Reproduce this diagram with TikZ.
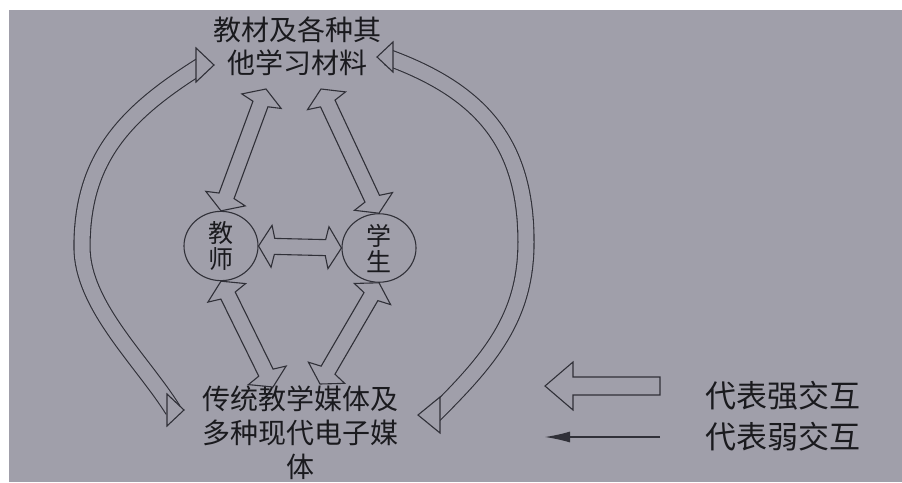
\documentclass[tikz,border=0pt]{standalone}
\usepackage{fontspec}
\newfontfamily\cjk{Noto Sans CJK SC}
\usetikzlibrary{calc,shapes.geometric,arrows.meta}

\definecolor{paper}{RGB}{160,159,170}
\definecolor{ink}{RGB}{48,48,56}
\definecolor{txt}{RGB}{26,26,30}

\newcommand{\headlen}{16pt}
\newcommand{\barblen}{13pt}
\newcommand{\headw}{21pt}
\newcommand{\shaftw}{8pt}
% hollow arrow with a head at both ends
\newcommand{\fatarrow}[2]{%
	\coordinate (h1) at ($(#1)!\headlen!(#2)$);
	\coordinate (b1) at ($(#1)!\barblen!(#2)$);
	\coordinate (h2) at ($(#2)!\headlen!(#1)$);
	\coordinate (b2) at ($(#2)!\barblen!(#1)$);
	\draw[fatline] (#1) -- ($(b1)!\headw!90:(#2)$) -- ($(h1)!\shaftw!90:(#2)$)
		-- ($(h2)!\shaftw!-90:(#1)$) -- ($(b2)!\headw!-90:(#1)$) -- (#2)
		-- ($(b2)!\headw!90:(#1)$) -- ($(h2)!\shaftw!90:(#1)$)
		-- ($(h1)!\shaftw!-90:(#2)$) -- ($(b1)!\headw!-90:(#2)$) -- cycle;
}

\tikzset{
	fatline/.style={draw=ink,line width=1.1pt,fill=paper,line join=miter},
	band/.style={draw=ink,line width=1.1pt,double=paper,double distance=15pt},
	label/.style={text=txt,align=center,inner sep=0pt,font=\cjk\fontsize{28}{33}\selectfont},
	person/.style={ellipse,draw=ink,line width=1.1pt,text=txt,align=center,inner sep=0pt,
		minimum width=74pt,minimum height=68pt,font=\cjk\fontsize{25}{26}\selectfont},
	legend/.style={text=txt,inner sep=0pt,font=\cjk\fontsize{31}{33}\selectfont}
}

\begin{document}
\begin{tikzpicture}[x=1pt,y=1pt]
\useasboundingbox (0,0) rectangle (902,-482);
\fill[white] (0,0) rectangle (902,-482);
\fill[paper] (9,-10) rectangle (902,-482);

\node[label] (mat) at (297,-46) {教材及各种其\\他学习材料};
\node[label,font=\cjk\fontsize{28}{34}\selectfont] (media) at (300,-433) {传统教学媒体及\\多种现代电子媒\\体};
\node[person] (teacher) at (221,-246) {教\\师};
\node[person] (student) at (379,-248) {学\\生};

\coordinate (mat-l) at (266,-89);
\coordinate (mat-r) at (321,-89);
\coordinate (media-l) at (273,-387);
\coordinate (media-r) at (320,-384);

\fatarrow{teacher.north}{mat-l}
\fatarrow{student.north}{mat-r}
\fatarrow{teacher.south}{media-l}
\fatarrow{student.south}{media-r}
\fatarrow{teacher.east}{student.west}

% big arcs round the whole
\coordinate (la-t) at (196,-65);
\coordinate (la-m) at (82,-247);
\coordinate (la-b) at (167,-410);
\coordinate (ra-t) at (393,-57);
\coordinate (ra-m) at (526,-242);
\coordinate (ra-b) at (440,-415);
\draw[band] ($(la-t)+(6,0)$) to[out=212,in=90,looseness=1.05] (la-m) to[out=270,in=122,looseness=0.8] ($(la-b)+(6,0)$);
\draw[band] ($(ra-t)+(-6,0)$) to[out=-20,in=90,looseness=1.1] (ra-m) to[out=270,in=45] ($(ra-b)+(-6,0)$);
\draw[fatline] ($(la-t)+(0,17)$) -- ($(la-t)+(18,0)$) -- ($(la-t)+(0,-17)$) -- cycle;
\draw[fatline] ($(la-b)+(0,16)$) -- ($(la-b)+(17,0)$) -- ($(la-b)+(0,-16)$) -- cycle;
\draw[fatline] ($(ra-t)+(0,15)$) -- ($(ra-t)+(-16,0)$) -- ($(ra-t)+(0,-15)$) -- cycle;
\draw[fatline] ($(ra-b)+(0,18)$) -- ($(ra-b)+(-22,0)$) -- ($(ra-b)+(0,-18)$) -- cycle;

% legend
\coordinate (s-tip) at (545,-386);
\coordinate (w-tip) at (545,-437);
\coordinate (w-end) at (660,-437);
\draw[fatline] (s-tip) -- ++(28,24) -- ++(0,-15) -- ++(87,0) -- ++(0,-18)
	-- ++(-87,0) -- ++(0,-15) -- cycle;
\draw[ink,line width=1.1pt,-{Latex[length=25pt,width=11pt]}] (w-end) -- (w-tip);
\node[legend] (strong) at (783,-396) {代表强交互};
\node[legend] (weak) at (783,-437) {代表弱交互};
\end{tikzpicture}
\end{document}
